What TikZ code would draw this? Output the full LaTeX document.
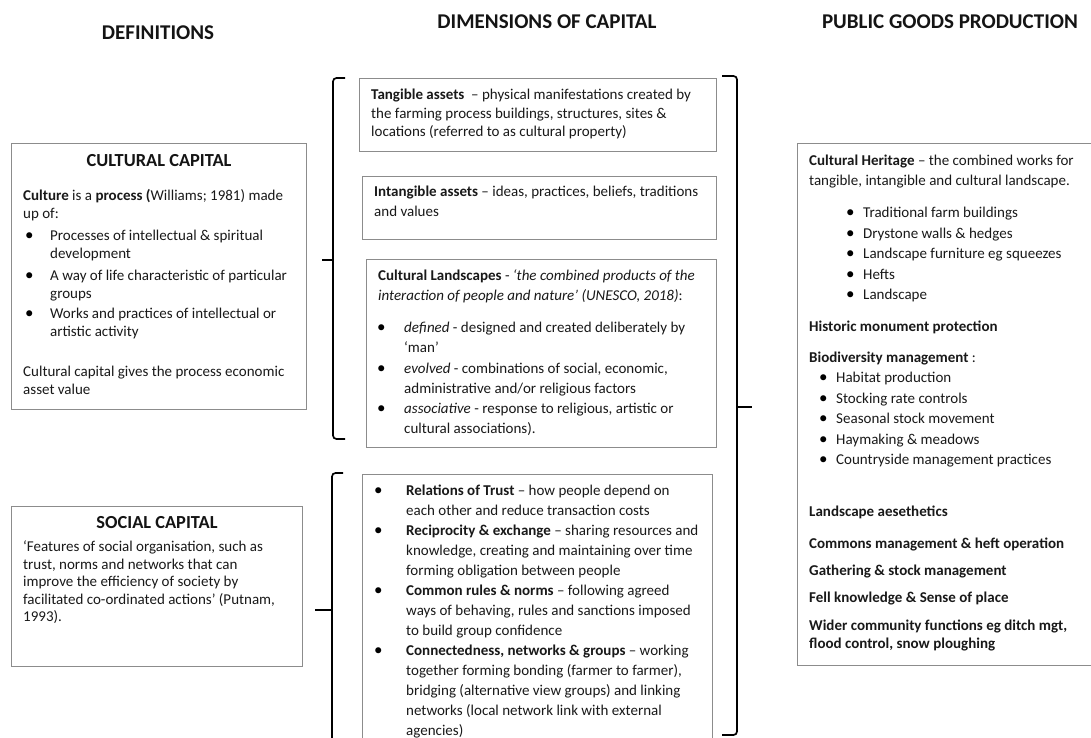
\documentclass[tikz,border=0pt]{standalone}
\usepackage{fontspec}
\setmainfont{Carlito}
\begin{document}
\begin{tikzpicture}[x=1pt,y=-1pt,
  txt/.style={anchor=north west, inner sep=0, align=left, text=black!90, font=\fontsize{15}{#1}\selectfont},
  one/.style={anchor=base west, inner sep=0, text=black!90, font=\fontsize{15}{17}\selectfont},
  bul/.style={anchor=base west, inner sep=0, text=black, font=\fontsize{17}{17}\selectfont},
  head/.style={inner sep=0, text=black!92, font=\fontsize{21}{24}\selectfont\bfseries},
  title/.style={inner sep=0, text=black!92, font=\fontsize{18.4}{22}\selectfont\bfseries},
  boxline/.style={draw=black!45, line width=1pt},
  bracep/.style={draw=black, line width=1.7pt, rounded corners=3.5pt}]
\useasboundingbox (0,0) rectangle (1091,738);
\fill[white] (0,0) rectangle (1091,738);

% headers
\node[head] (hdef) at (158,33) {DEFINITIONS};
\node[head] (hdim) at (547,22) {DIMENSIONS OF CAPITAL};
\node[head] (hpub) at (950,22) {PUBLIC GOODS PRODUCTION};

% ---------- Cultural capital box ----------
\draw[boxline] (11,144) rectangle (306,409);
\node[title] (cctitle) at (159,161) {CULTURAL CAPITAL};
\node[txt=17.5] (cc1) at (23,188.25) {\strut\textbf{Culture} is a \textbf{process (}Williams; 1981) made\\up of:};
\node[bul] (ccb1) at (25,240.5) {•};
\node[bul] (ccb2) at (25,280.5) {•};
\node[bul] (ccb3) at (25,318.5) {•};
\node[txt=17.5] (cci1) at (50,228.25) {\strut Processes of intellectual \& spiritual\\development};
\node[txt=17.5] (cci2) at (50,268.25) {\strut A way of life characteristic of particular\\groups};
\node[txt=17.5] (cci3) at (50,306.25) {\strut Works and practices of intellectual or\\artistic activity};
\node[txt=17.5] (cc2) at (23,364.25) {\strut Cultural capital gives the process economic\\asset value};

% ---------- Social capital box ----------
\draw[boxline] (11,506) rectangle (302,666);
\node[title] (sctitle) at (157,523) {SOCIAL CAPITAL};
\node[txt=17.5] (sc1) at (23,539.25) {\strut‘Features of social organisation, such as\\trust, norms and networks that can\\improve the efficiency of society by\\facilitated co-ordinated actions’ (Putnam,\\1993).};

% ---------- Middle: tangible ----------
\draw[boxline] (359,79) rectangle (716,152);
\node[txt=18.5] (tang) at (371,86.55) {\strut\textbf{Tangible assets}\ \ – physical manifestations created by\\the farming process buildings, structures, sites \&\\locations (referred to as cultural property)};

% intangible
\draw[boxline] (362,177) rectangle (716,239);
\node[txt=20] (intang) at (374,182.5) {\strut\textbf{Intangible assets} – ideas, practices, beliefs, traditions\\and values};

% cultural landscapes
\draw[boxline] (366,259) rectangle (716,447);
\node[txt=20] (cl) at (378,266.5) {\strut\textbf{Cultural Landscapes} - \textit{‘the combined products of the}\\\textit{interaction of people and nature’ (UNESCO, 2018)}:};
\node[bul] (clb1) at (377,332.5) {•};
\node[bul] (clb2) at (377,373.5) {•};
\node[bul] (clb3) at (377,413.5) {•};
\node[txt=20] (cli1) at (404,318.5) {\strut\textit{defined} - designed and created deliberately by\\‘man’};
\node[txt=20] (cli2) at (404,359.5) {\strut\textit{evolved} - combinations of social, economic,\\administrative and/or religious factors};
\node[txt=20] (cli3) at (404,399.5) {\strut\textit{associative} - response to religious, artistic or\\cultural associations).};

% social middle
\draw[boxline] (362,742) -- (362,474) -- (712,474) -- (712,742);
\node[bul] (smb1) at (374,495.5) {•};
\node[bul] (smb2) at (374,535.5) {•};
\node[bul] (smb3) at (374,595.5) {•};
\node[bul] (smb4) at (374,655.5) {•};
\node[txt=20] (sm) at (406,481.5) {\strut\textbf{Relations of Trust} – how people depend on\\
each other and reduce transaction costs\\
\textbf{Reciprocity \& exchange} – sharing resources and\\
knowledge, creating and maintaining over time\\
forming obligation between people\\
\textbf{Common rules \& norms} – following agreed\\
ways of behaving, rules and sanctions imposed\\
to build group confidence\\
\textbf{Connectedness, networks \& groups} – working\\
together forming bonding (farmer to farmer),\\
bridging (alternative view groups) and linking\\
networks (local network link with external\\
agencies)};

% ---------- Right box ----------
\draw[boxline] (1095,144) -- (797,144) -- (797,665) -- (1095,665);
\node[txt=20] (ch) at (809,151.5) {\strut\textbf{Cultural Heritage} – the combined works for\\tangible, intangible and cultural landscape.};
\node[bul] (rb1) at (846,217.5) {•};
\node[bul] (rb2) at (846,238) {•};
\node[bul] (rb3) at (846,258.5) {•};
\node[bul] (rb4) at (846,279) {•};
\node[bul] (rb5) at (846,299.5) {•};
\node[txt=20.5] (chl) at (863,203.15) {\strut Traditional farm buildings\\Drystone walls \& hedges\\Landscape furniture eg squeezes\\Hefts\\Landscape};
\node[one] (hist) at (809,331.5) {\textbf{Historic monument protection}};
\node[one] (bio) at (809,362.5) {\textbf{Biodiversity management} :};
\node[bul] (rc1) at (819,382.5) {•};
\node[bul] (rc2) at (819,403) {•};
\node[bul] (rc3) at (819,423.5) {•};
\node[bul] (rc4) at (819,444) {•};
\node[bul] (rc5) at (819,464.5) {•};
\node[txt=20.5] (biol) at (836,368.15) {\strut Habitat production\\Stocking rate controls\\Seasonal stock movement\\Haymaking \& meadows\\Countryside management practices};
\node[one] (land) at (809,516.5) {\textbf{Landscape aesethetics}};
\node[one] (comm) at (809,548.5) {\textbf{Commons management \& heft operation}};
\node[one] (gath) at (809,575.5) {\textbf{Gathering \& stock management}};
\node[one] (fell) at (809,602.5) {\textbf{Fell knowledge \& Sense of place}};
\node[txt=18] (wider) at (809,617.9) {\strut\textbf{Wider community functions eg ditch mgt,}\\\textbf{flood control, snow ploughing}};

% ---------- Braces ----------
\draw[bracep] (345,78) -- (333,78) -- (333,439) -- (345,439);
\draw[draw=black, line width=1.7pt] (333,260) -- (322,260);
\draw[bracep] (343,473) -- (332,473) -- (332,745);
\draw[draw=black, line width=1.7pt] (332,610) -- (315,610);
\draw[bracep] (722,76) -- (737,76) -- (737,735) -- (722,735);
\draw[draw=black, line width=1.7pt] (737,407) -- (752,407);
\end{tikzpicture}
\end{document}
